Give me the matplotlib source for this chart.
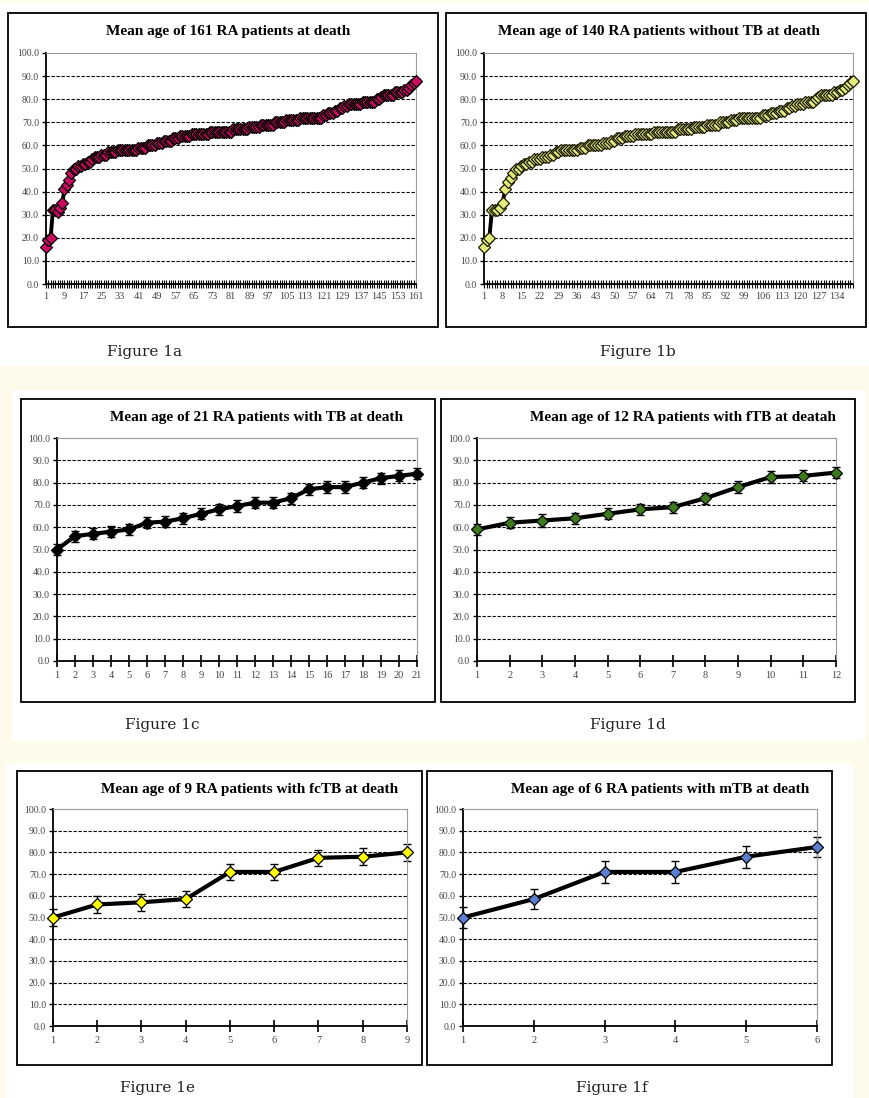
import matplotlib
matplotlib.use("Agg")
import matplotlib.pyplot as plt
from matplotlib.patches import Rectangle

# ---- data ----
ages_all = [
    16, 19, 20, 32, 32, 31, 33, 35, 41, 43, 45, 48, 50,
    50, 51, 51, 52, 52, 53, 53,
    54, 55, 55, 55, 56, 56, 56, 57, 57, 57,
    57, 58, 58, 58, 58, 58, 58, 58, 58, 58,
    59, 59, 59, 59, 60, 60, 60, 60, 61, 61,
    61, 62, 62, 62, 62, 63, 63, 63, 64, 64,
    64, 64, 64, 65, 65, 65, 65, 65, 65, 65,
    65, 66, 66, 66, 66, 66, 66, 66, 66, 66,
    66, 67, 67, 67, 67, 67, 67, 67, 68, 68,
    68, 68, 68, 69, 69, 69, 69, 69, 69, 70,
    70, 70, 70, 70, 71, 71, 71, 71, 71, 71,
    72, 72, 72, 72, 72, 72, 72, 72, 72, 72,
    73, 73, 74, 74, 74, 75, 75, 76, 76, 77,
    77, 78, 78, 78, 78, 78, 78, 79, 79, 79,
    79, 79, 79, 80, 80, 81, 82, 82, 82, 82,
    82, 83, 83, 83, 83, 84, 84, 85, 86, 87, 88,
]

ages_no_tb = [
    16, 19, 20, 32, 32, 32, 33, 35, 41, 44, 46, 48,
    50, 50, 51, 52, 52, 53, 53, 54,
    54, 54, 55, 55, 55, 56, 56, 57, 57, 58,
    58, 58, 58, 58, 58, 58, 59, 59, 59, 60,
    60, 60, 60, 60, 60, 61, 61, 61, 62, 62,
    63, 63, 63, 64, 64, 64, 64, 65, 65, 65,
    65, 65, 65, 65, 66, 66, 66, 66, 66, 66,
    66, 66, 66, 67, 67, 67, 67, 67, 67, 68,
    68, 68, 68, 68, 69, 69, 69, 69, 69, 70,
    70, 70, 70, 71, 71, 71, 72, 72, 72, 72,
    72, 72, 72, 72, 72, 73, 73, 73, 74, 74,
    74, 75, 75, 75, 76, 76, 77, 77, 78, 78,
    78, 79, 79, 79, 79, 80, 81, 82, 82, 82,
    82, 82, 83, 83, 84, 84, 85, 86, 87, 88,
]

ages_tb = [50, 56, 57, 58, 59, 62, 62.5, 64, 66, 68, 69.5,
           71, 71, 73, 77, 78, 78, 80, 82, 83, 84]
err_tb = [2.5] * 21

ages_ftb = [59, 62, 63, 64, 66, 68, 69, 73, 78, 82.5, 83, 84.5]
err_ftb = [2.5, 2.5, 3, 2.5, 2.5, 2.5, 2.5, 2.5, 2.5, 2.5, 2.5, 2.5]

ages_fctb = [50, 56, 57, 58.5, 71, 71, 77.5, 78, 80]
err_fctb = [4, 4, 3.8, 3.5, 3.8, 3.8, 3.8, 3.8, 4]

ages_mtb = [50, 58.5, 71, 71, 78, 82.5]
err_mtb = [5, 4.8, 5, 5, 5, 4.8]

W, H = 870, 1098
fig = plt.figure(figsize=(W / 100, H / 100), dpi=100)
fig.patch.set_facecolor("#fffbea")

SERIF = "Liberation Serif"


def px_rect(l, t, r, b, **kw):
    fig.patches.append(Rectangle((l / W, 1 - b / H), (r - l) / W, (b - t) / H,
                                 transform=fig.transFigure, **kw))


def px_axes(l, t, r, b):
    return fig.add_axes([l / W, 1 - b / H, (r - l) / W, (b - t) / H])


# white page areas (behind everything) and chart frames
px_rect(0, 3, 870, 366, facecolor="white", edgecolor="none", zorder=-5)
px_rect(12, 390, 865, 741, facecolor="white", edgecolor="none", zorder=-5)
px_rect(5, 763, 853, 1098, facecolor="white", edgecolor="none", zorder=-5)

for box in [(8, 13, 438, 327), (446, 13, 866, 327), (21, 399, 435, 702),
            (441, 399, 855, 702), (17, 771, 422, 1065), (427, 771, 832, 1065)]:
    px_rect(*box, facecolor="none", edgecolor="black", lw=1.3, zorder=5)


def style_axes(ax, n, label_step, dense):
    ax.set_facecolor("none")
    ax.set_ylim(0, 100)
    ax.set_xlim(1, n)
    ax.set_yticks(range(0, 101, 10))
    ax.set_yticklabels([f"{v:.1f}" for v in range(0, 101, 10)])
    ax.set_xticks(range(1, n + 1))
    ax.set_xticklabels([str(i) if (i - 1) % label_step == 0 else ""
                        for i in range(1, n + 1)])
    for v in range(10, 100, 10):
        ax.axhline(v, color="black", lw=0.8, ls=(0, (3, 1.5)), zorder=1)
    ax.spines["left"].set_color("black")
    ax.spines["bottom"].set_color("black")
    ax.spines["left"].set_linewidth(1.3)
    ax.spines["bottom"].set_linewidth(1.3)
    ax.spines["top"].set_color("#9a9a9a")
    ax.spines["right"].set_color("#9a9a9a")
    ax.tick_params(axis="y", direction="out", length=3, width=1,
                   labelsize=7, labelcolor="#444444", pad=2)
    if dense:
        ax.tick_params(axis="x", direction="inout", length=6, width=0.8,
                       labelsize=7.5, labelcolor="#444444", pad=3)
    else:
        ax.tick_params(axis="x", direction="inout", length=8, width=1.2,
                       labelsize=7.5, labelcolor="#444444", pad=3)
    for lab in ax.get_xticklabels() + ax.get_yticklabels():
        lab.set_fontfamily(SERIF)


def title(x, y, text):
    fig.text(x / W, 1 - y / H, text, ha="center", va="center",
             fontsize=11, fontweight="bold", family=SERIF)


def caption(x, y, text):
    fig.text(x / W, 1 - y / H, text, ha="center", va="center",
             fontsize=11, family="DejaVu Serif", color="#222222")


# Figure 1a
ax = px_axes(46, 53, 416, 284)
xs = range(1, len(ages_all) + 1)
ax.plot(xs, ages_all, color="black", lw=2.8, marker="D", ms=6,
        mfc="#cc0a62", mec="black", mew=0.9, clip_on=False, zorder=3)
style_axes(ax, len(ages_all), 8, True)
title(228, 32, "Mean age of 161 RA patients at death")
caption(145, 352, "Figure 1a")

# Figure 1b
ax = px_axes(484, 53, 853, 284)
xs = range(1, len(ages_no_tb) + 1)
ax.plot(xs, ages_no_tb, color="black", lw=2.8, marker="D", ms=6,
        mfc="#e4ec7a", mec="#1a1a00", mew=0.9, clip_on=False, zorder=3)
style_axes(ax, len(ages_no_tb), 7, True)
title(659, 32, "Mean age of 140 RA patients without TB at death")
caption(638, 352, "Figure 1b")

# Figure 1c - 1f: small series with error bars
small = [
    ((57, 438, 417, 661), ages_tb, err_tb, "black",
     (257, 417), "Mean age of 21 RA patients with TB at death", (162, 725), "Figure 1c"),
    ((477, 438, 836, 661), ages_ftb, err_ftb, "#3d7a1c",
     (683, 417), "Mean age of 12 RA patients with fTB at deatah", (628, 725), "Figure 1d"),
    ((53, 809, 407, 1026), ages_fctb, err_fctb, "#ffff00",
     (250, 789), "Mean age of 9 RA patients with fcTB at death", (158, 1088), "Figure 1e"),
    ((463, 809, 817, 1026), ages_mtb, err_mtb, "#5a7fd0",
     (660, 789), "Mean age of 6 RA patients with mTB at death", (612, 1088), "Figure 1f"),
]

for rect, vals, errs, col, tpos, ttxt, cpos, ctxt in small:
    ax = px_axes(*rect)
    xs = range(1, len(vals) + 1)
    ax.errorbar(xs, vals, yerr=errs, fmt="none", ecolor="black", elinewidth=1,
                capsize=3, capthick=1, zorder=2, clip_on=False)
    ax.plot(xs, vals, color="black", lw=3, marker="D", ms=6,
            mfc=col, mec="black", mew=0.9, clip_on=False, zorder=3)
    style_axes(ax, len(vals), 1, False)
    title(tpos[0], tpos[1], ttxt)
    caption(cpos[0], cpos[1], ctxt)

fig.savefig("out.png", dpi=100, facecolor=fig.get_facecolor())
